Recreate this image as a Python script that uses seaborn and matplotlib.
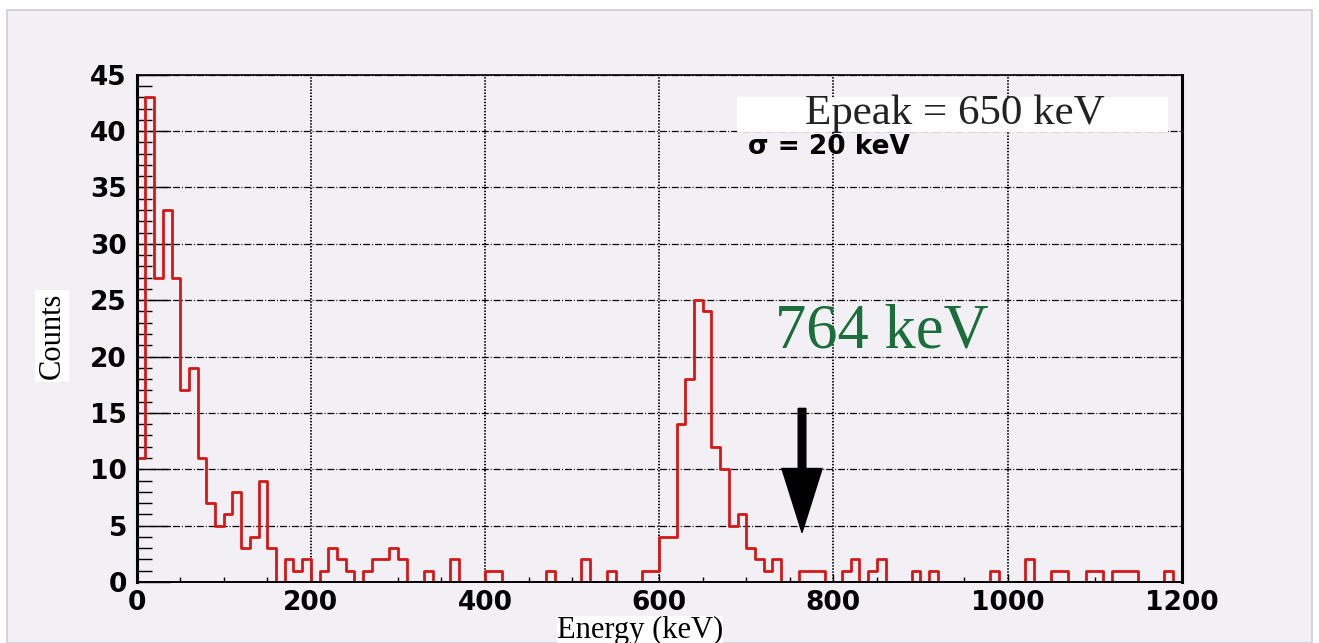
import numpy as np
import pandas as pd
import seaborn as sns
import matplotlib.pyplot as plt
import matplotlib.patches as mpatches
from matplotlib.ticker import MultipleLocator

# ---- data: counts per 10 keV bin, 0 .. 1200 keV ----
bin_width = 10
counts = [
    11, 43, 27, 33, 27, 17, 19, 11, 7, 5, 6, 8, 3, 4, 9, 3, 0, 2, 1, 2,          # 0-200
    0, 1, 3, 2, 1, 0, 1, 2, 2, 3, 2, 0, 0, 1, 0, 0, 2, 0, 0, 0,                  # 200-400
    1, 1, 0, 0, 0, 0, 0, 1, 0, 0, 0, 2, 0, 0, 1, 0, 0, 0, 1, 1,                  # 400-600
    4, 4, 14, 18, 25, 24, 12, 10, 5, 6, 3, 2, 1, 2, 0, 0, 1, 1, 1, 0,            # 600-800
    0, 1, 2, 0, 1, 2, 0, 0, 0, 1, 0, 1, 0, 0, 0, 0, 0, 0, 1, 0,                  # 800-1000
    0, 0, 2, 0, 0, 1, 1, 0, 0, 1, 1, 0, 1, 1, 1, 0, 0, 0, 1, 0,                  # 1000-1200
]
x_ticks = [0, 200, 400, 600, 800, 1000, 1200]
y_ticks = [0, 5, 10, 15, 20, 25, 30, 35, 40, 45]
peak_label = "Epeak = 650 keV"
sigma_label = "σ = 20 keV"
marker_energy = 764
marker_label = "764 keV"

n_bins = len(counts)
df = pd.DataFrame({"energy": np.arange(n_bins) * bin_width + bin_width / 2,
                   "counts": counts})

sns.set_style("ticks")
plt.rcParams["font.family"] = ["Liberation Sans", "DejaVu Sans"]
plt.rcParams["text.color"] = "black"
plt.rcParams["axes.labelcolor"] = "black"
plt.rcParams["xtick.color"] = "black"
plt.rcParams["ytick.color"] = "black"

W, H = 1319, 643
fig = plt.figure(figsize=(W / 100, H / 100), dpi=100, facecolor="white")
panel_color = "#f3f0f5"
panel = mpatches.Rectangle((7 / W, 0), (1312 - 7) / W, 633 / H,
                           transform=fig.transFigure, fc=panel_color,
                           ec="#cfcdd4", lw=1.2, zorder=-10)
fig.patches.append(panel)

L, R, T, B = 136.7, 1181.7, 74.7, 582.0
ax = fig.add_axes([L / W, 1 - B / H, (R - L) / W, (B - T) / H])
ax.set_zorder(1)
ax.set_facecolor(panel_color)

sns.histplot(data=df, x="energy", weights="counts", binwidth=bin_width,
             binrange=(0, n_bins * bin_width),
             element="step", fill=False, color="#d41818", linewidth=2.0, ax=ax)

ax.set_xlim(0, 1200)
ax.set_ylim(0, 45)
ax.set_xticks(x_ticks)
ax.set_yticks(y_ticks)
ax.xaxis.set_minor_locator(MultipleLocator(50))
ax.yaxis.set_minor_locator(MultipleLocator(1))

ax.grid(axis="y", which="major", color="black", lw=0.9, ls=(0, (5.5, 1.6, 0.8, 1.6)))
ax.grid(axis="x", which="major", color="black", lw=1.3, ls=(0, (0.8, 0.9)))
ax.set_axisbelow(True)

for side, lw in [("left", 2.2), ("right", 2.2), ("top", 1.2), ("bottom", 1.4)]:
    ax.spines[side].set_visible(True)
    ax.spines[side].set_color("black")
    ax.spines[side].set_linewidth(lw)

tick_font = dict(family="DejaVu Sans", weight="bold", size=19, color="black")
ax.tick_params(axis="x", which="major", direction="in", length=6, width=1, pad=6)
ax.tick_params(axis="x", which="minor", direction="in", length=3.5, width=1)
ax.tick_params(axis="y", which="major", direction="in", length=24, width=1, pad=7)
ax.tick_params(axis="y", which="minor", direction="in", length=11, width=1)
ax.set_xticklabels([str(v) for v in x_ticks], fontdict=tick_font)
ax.set_yticklabels([str(v) for v in y_ticks], fontdict=tick_font)

ax.set_xlabel("Energy (keV)", fontfamily="Liberation Serif", fontsize=22,
              bbox=dict(fc="white", ec="none", pad=0))
ax.xaxis.set_label_coords((640 - L) / (R - L), (B - 638) / (B - T))
ax.xaxis.label.set_va("baseline")
ax.set_ylabel("Counts", fontfamily="Liberation Serif", fontsize=22,
              bbox=dict(fc="white", ec="none", pad=2))
ax.yaxis.set_label_coords((52 - L) / (R - L), (B - 336) / (B - T))
ax.yaxis.label.set_va("center")

# Epeak box
ax.add_patch(mpatches.Rectangle(((737 - L) / (R - L), (B - 132) / (B - T)),
                                (1168 - 737) / (R - L), 35 / (B - T),
                                transform=ax.transAxes, fc="white", ec="none", zorder=3))
ax.text((955 - L) / (R - L), (B - 114) / (B - T), peak_label, transform=ax.transAxes,
        ha="center", va="center", fontfamily="Liberation Serif", fontsize=31,
        color="#222222", zorder=4)
ax.text((748 - L) / (R - L), (B - 147) / (B - T), sigma_label, transform=ax.transAxes,
        ha="left", va="center", fontfamily="DejaVu Sans", fontweight="bold",
        fontsize=19, color="black", zorder=4)

# 764 keV marker
ax.text(733, 20.8, marker_label, ha="left", va="baseline",
        fontfamily="Liberation Serif", fontsize=45, color="#1b6e3b", zorder=4)
ax.annotate("", xy=(marker_energy, 4.4), xytext=(marker_energy, 15.4),
            arrowprops=dict(facecolor="black", edgecolor="black", width=5.5,
                            headwidth=29, headlength=46, shrink=0), zorder=5)

fig.savefig("out.png", dpi=100, facecolor="white")
